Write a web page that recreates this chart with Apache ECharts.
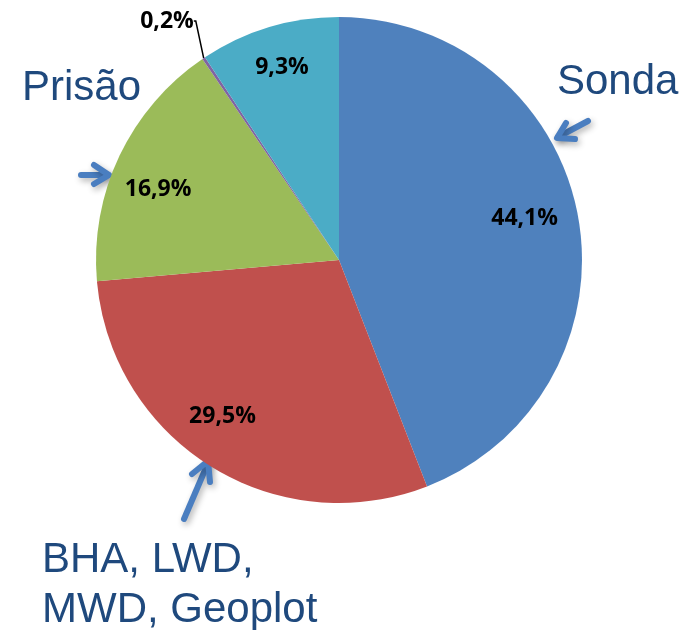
<!DOCTYPE html>
<html>
<head>
<meta charset="utf-8">
<script src="https://cdn.jsdelivr.net/npm/echarts@6/dist/echarts.min.js"></script>
<style>
  html, body { margin: 0; padding: 0; background: #fff; }
  #main { width: 681px; height: 630px; }
</style>
</head>
<body>
<div id="main"></div>
<script>
let categories = ['Sonda', 'BHA, LWD, MWD, Geoplot', 'Prisão', 'Outros', 'Demais'];
let values = [44.1, 29.5, 16.9, 0.2, 9.3];
let colors = ['#4F81BD', '#C0504D', '#9BBB59', '#8064A2', '#4BACC6'];

let myChart = echarts.init(document.getElementById('main'));

function pct(v) {
	return v.toFixed(1).replace('.', ',') + '%';
}

let data = categories.map(function (c, i) {
	return { name: c, value: values[i], itemStyle: { color: colors[i] } };
});

let labelData = categories.map(function (c, i) {
	let item = { name: c, value: values[i], itemStyle: { color: 'rgba(0,0,0,0)' } };
	if (values[i] < 1) item.label = { show: false };
	return item;
});

let mainData = data.map(function (d, i) {
	let item = Object.assign({}, d);
	if (values[i] < 1) {
		item.label = { show: true, position: 'outside' };
		item.labelLine = { show: true, length: 20, length2: 2 };
	}
	return item;
});

// small nudges so the labels sit where Excel put them
let labelShift = [[-9, -5], [-12, -12], [-2, 14], [0, 0], [0, -3]];

let labelFont = { fontFamily: 'Open Sans', fontWeight: 'bold', fontSize: 23, color: '#000' };
let bigText = { fontFamily: 'Liberation Sans', fontSize: 42, fill: '#1F497D' };
let arrowStyle = { stroke: '#4A7EC0', lineWidth: 6, lineCap: 'round', lineJoin: 'round', fill: null,
	shadowBlur: 6, shadowColor: 'rgba(0,0,0,0.3)', shadowOffsetX: 2, shadowOffsetY: 3 };

let option = {
	animation: false,
	backgroundColor: '#fff',
	series: [
		{
			type: 'pie',
			center: [339, 260],
			radius: [0, 243],
			startAngle: 90,
			clockwise: true,
			silent: true,
			data: mainData,
			label: Object.assign({ show: false, formatter: function (p) { return pct(p.value); } }, labelFont),
			labelLine: { show: false, lineStyle: { color: '#000', width: 1.5 } },
			labelLayout: function (p) {
				if (p.dataIndex === 3) {
					return { x: 167, y: 21, align: 'center', verticalAlign: 'middle' };
				}
				return {};
			}
		},
		{
			type: 'pie',
			center: [339, 260],
			radius: [147, 243],
			startAngle: 90,
			clockwise: true,
			silent: true,
			data: labelData,
			label: Object.assign({ show: true, position: 'inside', formatter: function (p) { return pct(p.value); } }, labelFont),
			labelLine: { show: false },
			labelLayout: function (p) {
				let s = labelShift[p.dataIndex];
				return { dx: s[0], dy: s[1] };
			}
		}
	],
	graphic: [
		{ type: 'text', left: 557, top: 61, style: Object.assign({ text: 'Sonda' }, bigText) },
		{ type: 'text', left: 22, top: 67, style: Object.assign({ text: 'Prisão' }, bigText) },
		{ type: 'text', left: 42, top: 535, style: Object.assign({ text: 'BHA, LWD,\nMWD, Geoplot', lineHeight: 50 }, bigText) },
		// arrows
		{ type: 'polyline', shape: { points: [[588, 121], [558, 137]] }, style: arrowStyle },
		{ type: 'polyline', shape: { points: [[566, 123], [557, 138], [575, 139]] }, style: arrowStyle },
		{ type: 'polyline', shape: { points: [[81, 175], [108, 175]] }, style: arrowStyle },
		{ type: 'polyline', shape: { points: [[94, 165], [109, 175], [94, 184]] }, style: arrowStyle },
		{ type: 'polyline', shape: { points: [[184, 519], [208, 463]] }, style: arrowStyle },
		{ type: 'polyline', shape: { points: [[192, 474], [208, 461], [210, 482]] }, style: arrowStyle }
	]
};
myChart.setOption(option);
</script>
</body>
</html>
